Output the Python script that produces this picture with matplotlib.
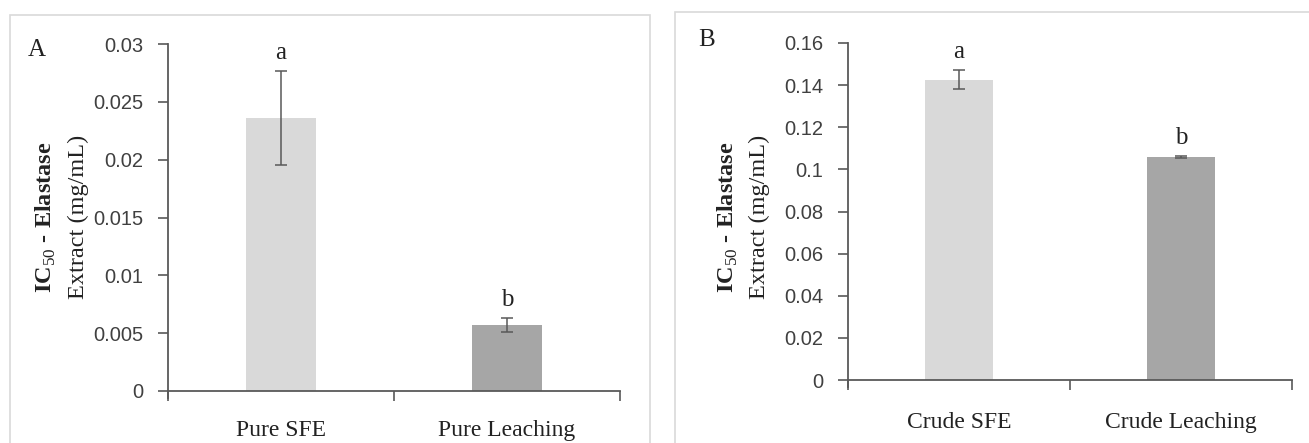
import matplotlib.pyplot as plt
from matplotlib.patches import Rectangle

# data
cats_a = ['Pure SFE', 'Pure Leaching']
ic50_a = [0.0236, 0.0057]
err_a = [0.0041, 0.0006]
sig_a = ['a', 'b']
yticks_a = [0, 0.005, 0.01, 0.015, 0.02, 0.025, 0.03]
yticklabels_a = ['0', '0.005', '0.01', '0.015', '0.02', '0.025', '0.03']

cats_b = ['Crude SFE', 'Crude Leaching']
ic50_b = [0.1425, 0.106]
err_b = [0.0045, 0.0004]
sig_b = ['a', 'b']
yticks_b = [0, 0.02, 0.04, 0.06, 0.08, 0.1, 0.12, 0.14, 0.16]
yticklabels_b = ['0', '0.02', '0.04', '0.06', '0.08', '0.1', '0.12', '0.14', '0.16']

bar_colors = ['#d9d9d9', '#a6a6a6']
axis_color = '#595959'
serif = ['Liberation Serif', 'DejaVu Serif']
sans = ['Liberation Sans', 'DejaVu Sans']

plt.rcParams['mathtext.fontset'] = 'custom'
plt.rcParams['mathtext.rm'] = 'Liberation Serif'
plt.rcParams['mathtext.bf'] = 'Liberation Serif:bold'

W, H = 1309, 443
fig = plt.figure(figsize=(W / 100, H / 100), dpi=100)

def px(x0, y0, x1, y1):
    """pixel box (left, top, right, bottom) -> figure rect"""
    return [x0 / W, 1 - y1 / H, (x1 - x0) / W, (y1 - y0) / H]

# panel frames
fig.patches.append(Rectangle((10 / W, -0.05), 640 / W, 1.05 - 15 / H,
                             transform=fig.transFigure, fill=False,
                             edgecolor='#d9d9d9', lw=1.2))
fig.patches.append(Rectangle((675 / W, -0.05), 1.0, 1.05 - 12 / H,
                             transform=fig.transFigure, fill=False,
                             edgecolor='#d9d9d9', lw=1.2))


def draw_panel(rect, cats, vals, errs, sigs, yticks, yticklabels, ymax, letter, letter_xy,
               ylab_x, xpad):
    ax = fig.add_axes(rect)
    x = range(len(cats))
    ax.bar(x, vals, width=0.31, color=bar_colors, zorder=2)
    ax.errorbar(x, vals, yerr=errs, fmt='none', ecolor=axis_color,
                elinewidth=1.1, capsize=4, capthick=1.1, zorder=3)
    for xi, v, e, s in zip(x, vals, errs, sigs):
        ax.annotate(s, (xi, v + e), xytext=(0, 5), textcoords='offset points',
                    ha='center', va='bottom', fontsize=18, family=serif, color='#222222')

    ax.set_xlim(-0.5, len(cats) - 0.5)
    ax.set_ylim(0, ymax)
    ax.set_yticks(yticks)
    ax.set_yticklabels(yticklabels, family=sans, fontsize=14.5, color='#404040')
    ax.set_xticks(list(x))
    ax.set_xticklabels(cats, family=serif, fontsize=17, color='#222222')
    ax.set_xticks([i - 0.5 for i in range(len(cats) + 1)], minor=True)
    ax.tick_params(axis='x', which='major', length=0, pad=xpad)
    ax.tick_params(axis='x', which='minor', length=7, width=1.2, color=axis_color, direction='out')
    ax.tick_params(axis='y', length=7, width=1.2, color=axis_color, direction='out', pad=11)

    for side in ['top', 'right']:
        ax.spines[side].set_visible(False)
    for side in ['left', 'bottom']:
        ax.spines[side].set_color(axis_color)
        ax.spines[side].set_linewidth(1.3)
    ax.spines['left'].set_bounds(-ymax * 0.02, ymax)

    fig.text(letter_xy[0] / W, 1 - letter_xy[1] / H, letter, family=serif,
             fontsize=18, ha='center', va='center', color='#222222')

    # two-line axis label: bold first line, plain second
    fig.text(ylab_x[0] / W, 1 - 217 / H, r'IC$_{\mathrm{50}}$ - Elastase', rotation=90,
             family=serif, fontweight='bold', fontsize=17.5, ha='center', va='center',
             color='#222222')
    fig.text(ylab_x[1] / W, 1 - 217 / H, 'Extract (mg/mL)', rotation=90,
             family=serif, fontsize=17.5, ha='center', va='center', color='#222222')
    return ax


draw_panel(px(168, 44, 620, 391), cats_a, ic50_a, err_a, sig_a,
           yticks_a, yticklabels_a, 0.03, 'A', (37, 50), (46, 78), 21)
draw_panel(px(848, 43, 1292, 380), cats_b, ic50_b, err_b, sig_b,
           yticks_b, yticklabels_b, 0.16, 'B', (707, 40), (728, 759), 23)

fig.savefig('out.png', dpi=100)
